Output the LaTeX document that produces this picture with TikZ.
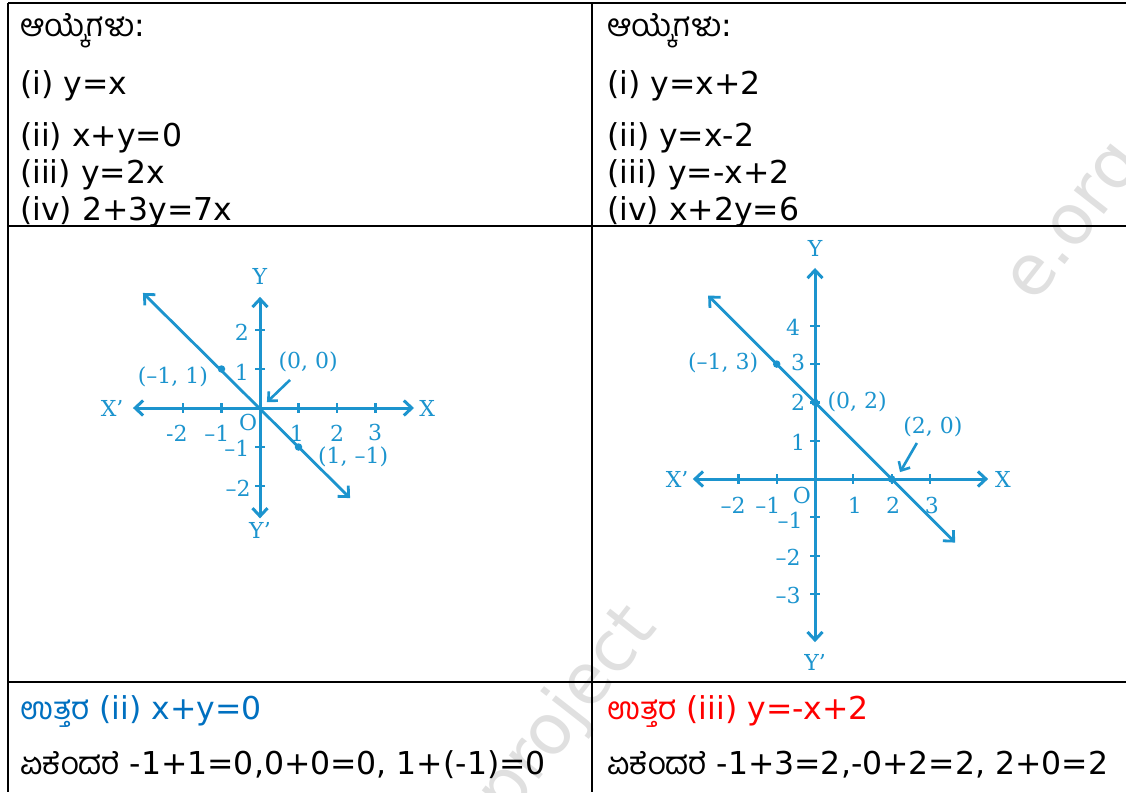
\documentclass[tikz,border=0pt]{standalone}
\usepackage{fontspec}
\setmainfont{DejaVu Sans}
\newfontfamily\kan[Script=Kannada]{Hind Mysuru}
\newfontfamily\grf{DejaVu Serif}
\usetikzlibrary{arrows.meta}
\definecolor{graphblue}{RGB}{28,148,206}
\definecolor{ansblue}{RGB}{0,112,192}

\begin{document}
\begin{tikzpicture}[x=1pt, y=-1pt,
  txt/.style={anchor=base west, inner sep=0pt, font=\fontsize{31.5}{37}\selectfont},
  rule/.style={line width=2.5pt, black},
  gaxis/.style={graphblue, line width=3pt, {Straight Barb[length=8pt,width=15pt]}-{Straight Barb[length=8pt,width=15pt]}},
  gline/.style={graphblue, line width=2.8pt, {Straight Barb[length=8pt,width=15pt]}-{Straight Barb[length=8pt,width=15pt]}},
  gtick/.style={graphblue, line width=2.2pt},
  gptr/.style={graphblue, line width=2.6pt, -{Straight Barb[length=7pt,width=13pt]}},
  glab/.style={graphblue, font=\grf\fontsize{22}{22}\selectfont, inner sep=0pt},
  gdot/.style={circle, fill=graphblue, inner sep=0pt, minimum size=7.5pt},
  wmark/.style={gray!24, font=\fontsize{70}{70}\selectfont, rotate=52, inner sep=0pt}]
\useasboundingbox (0,0) rectangle (1126,792);
% --- watermark
\node[wmark, anchor=base west] (wm1) at (1034,305) {e.org};
\node[wmark] (wm2) at (568,712) {project};
% --- table rules
\coordinate (tl) at (8,3);
\coordinate (tr) at (1126,3);
\coordinate (bl) at (8,792);
\draw[rule] (tl) -- (tr);
\draw[rule] (tl) -- (bl);
\draw[rule] (592,3) coordinate (ct) -- (592,792) coordinate (cb);
\draw[rule] (8,226) coordinate (r1l) -- (1126,226) coordinate (r1r);
\draw[rule] (8,682) coordinate (r2l) -- (1126,682) coordinate (r2r);
% --- left column: options
\node[txt] (lhead) at (20,37) {{\kan ಆಯ್ಕೆಗಳು}:};
\node[txt] (lo1) at (20,94) {(i)\ y=x};
\node[txt] (lo2) at (20,146) {(ii)\ x+y=0};
\node[txt] (lo3) at (20,183) {(iii)\ y=2x};
\node[txt] (lo4) at (20,220) {(iv)\ 2+3y=7x};
% --- right column: options
\node[txt] (rhead) at (607,37) {{\kan ಆಯ್ಕೆಗಳು}:};
\node[txt] (ro1) at (607,94) {(i)\ y=x+2};
\node[txt] (ro2) at (607,146) {(ii)\ y=x-2};
\node[txt] (ro3) at (607,183) {(iii)\ y=-x+2};
\node[txt] (ro4) at (607,220) {(iv)\ x+2y=6};
% --- bottom row: answers
\node[txt, text=ansblue] (lans) at (20,719) {{\kan ಉತ್ತರ} (ii)\ x+y=0};
\node[txt] (lwhy) at (20,774) {{\kan ಏಕೆಂದರೆ} -1+1=0,0+0=0, 1+(-1)=0};
\node[txt, text=red] (rans) at (607,719) {{\kan ಉತ್ತರ} (iii)\ y=-x+2};
\node[txt] (rwhy) at (607,774) {{\kan ಏಕೆಂದರೆ} -1+3=2,-0+2=2, 2+0=2};
% --- left graph: x+y=0
\begin{scope}[shift={(260,408)}, x=38.5pt, y=39pt]
  \coordinate (lxw) at (-3.3,0); \coordinate (lxe) at (4.0,0);
  \coordinate (lys) at (0,-2.83); \coordinate (lyn) at (0,2.85);
  \draw[gaxis] (lxw) -- (lxe);
  \draw[gaxis] (lys) -- (lyn);
  \foreach \k in {-2,-1,1,2,3} \draw[gtick] (\k,-0.12) -- (\k,0.12);
  \foreach \k in {-2,-1,1,2} \draw[gtick] (-0.12,\k) -- (0.12,\k);
  \coordinate (lla) at (-3.04,2.95); \coordinate (llb) at (2.34,-2.31);
  \draw[gline] (lla) -- (llb);
  \node[gdot] (lp1) at (-1,1) {};
  \node[gdot] (lp2) at (1,-1) {};
  \node[glab] (lY) at (0,3.36) {Y};
  \node[glab] (lYp) at (0,-3.13) {Y’};
  \node[glab] (lXp) at (-3.84,0) {X’};
  \node[glab] (lX) at (4.34,0) {X};
  \node[glab] (lO) at (-0.31,-0.36) {O};
  \node[glab] (lxm2) at (-2.16,-0.64) {-2};
  \node[glab] (lxm1) at (-1.12,-0.64) {–1};
  \node[glab] (lx1) at (0.96,-0.64) {1};
  \node[glab] (lx2) at (2.0,-0.64) {2};
  \node[glab] (lx3) at (2.99,-0.64) {3};
  \node[glab] (ly2) at (-0.47,1.95) {2};
  \node[glab] (ly1) at (-0.47,0.92) {1};
  \node[glab] (lym1) at (-0.6,-1.03) {–1};
  \node[glab] (lym2) at (-0.57,-2.05) {–2};
  \node[glab] (lc1) at (-2.26,0.8) {(–1, 1)};
  \node[glab] (lc2) at (2.42,-1.26) {(1, –1)};
  \node[glab] (lc0) at (1.25,1.18) {(0, 0)};
  \coordinate (lo) at (0.18,0.15);
  \draw[gptr] (0.78,0.72) coordinate (lpt) -- (lo);
\end{scope}
% --- right graph: y=-x+2
\begin{scope}[shift={(815,479)}, x=38.3pt, y=38.3pt]
  \coordinate (rxw) at (-3.19,0); \coordinate (rxe) at (4.52,0);
  \coordinate (rys) at (0,-4.26); \coordinate (ryn) at (0,5.51);
  \draw[gaxis] (rxw) -- (rxe);
  \draw[gaxis] (rys) -- (ryn);
  \foreach \k in {-2,-1,1,2,3} \draw[gtick] (\k,-0.12) -- (\k,0.12);
  \foreach \k in {-3,-2,-1,1,2,3,4} \draw[gtick] (-0.12,\k) -- (0.12,\k);
  \coordinate (rla) at (-2.79,4.79); \coordinate (rlb) at (3.66,-1.66);
  \draw[gline] (rla) -- (rlb);
  \node[gdot] (rp1) at (-1,3) {};
  \node[gdot] (rp2) at (0,2) {};
  \node[gdot] (rp3) at (2,0) {};
  \node[glab] (rY) at (0,6.03) {Y};
  \node[glab] (rYp) at (0,-4.78) {Y’};
  \node[glab] (rXp) at (-3.6,0) {X’};
  \node[glab] (rX) at (4.91,0) {X};
  \node[glab] (rO) at (-0.34,-0.42) {O};
  \node[glab] (rxm2) at (-2.14,-0.68) {–2};
  \node[glab] (rxm1) at (-1.23,-0.68) {–1};
  \node[glab] (rx1) at (1.04,-0.68) {1};
  \node[glab] (rx2) at (2.04,-0.68) {2};
  \node[glab] (rx3) at (3.05,-0.68) {3};
  \node[glab] (ry4) at (-0.57,3.97) {4};
  \node[glab] (ry3) at (-0.44,3.03) {3};
  \node[glab] (ry2) at (-0.44,2.01) {2};
  \node[glab] (ry1) at (-0.44,0.97) {1};
  \node[glab] (rym1) at (-0.65,-1.07) {–1};
  \node[glab] (rym2) at (-0.7,-2.04) {–2};
  \node[glab] (rym3) at (-0.7,-3.03) {–3};
  \node[glab] (rc1) at (-2.4,3.03) {(–1, 3)};
  \node[glab] (rc2) at (1.1,2.01) {(0, 2)};
  \node[glab] (rc3) at (3.08,1.36) {(2, 0)};
  \draw[gptr] (2.66,0.94) coordinate (rpt) -- (2.22,0.18) coordinate (rxo);
\end{scope}
\end{tikzpicture}
\end{document}
